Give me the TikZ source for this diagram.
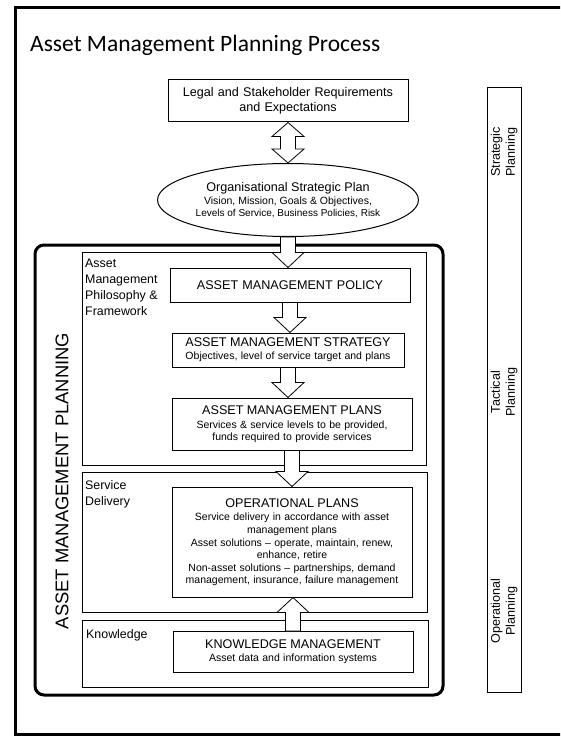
\documentclass[tikz,border=0pt]{standalone}
\usepackage{fontspec}
\setmainfont{Liberation Sans}
\newfontfamily\titlefont{Carlito}
\usetikzlibrary{shapes.geometric,calc}

\newcommand{\hdsize}{\fontsize{12.6}{15}\selectfont}
\newcommand{\subsize}{\fontsize{10.5}{12.6}\selectfont}
\newcommand{\lblsize}{\fontsize{12.4}{16}\selectfont}

\tikzset{
  planbox/.style={draw, line width=1pt, fill=white, align=center, inner sep=2pt,
    minimum width=240pt, text width=234pt},
  groupbox/.style={draw, line width=1pt},
  grouplbl/.style={anchor=north west, align=left, inner sep=1pt, font=\lblsize},
  sidelbl/.style={rotate=90, align=center, inner sep=1pt, font=\hdsize},
  blockarr/.style={draw, fill=white, line width=0.8pt, line join=miter},
}

\newcommand{\blockarrow}[3]{%
  \draw[blockarr] ($(#1)+(-7.5,0)$) -- ($(#1 |- #2)+(-7.5,-15*#3)$)
    -- ($(#1 |- #2)+(-16,-15*#3)$) -- (#1 |- #2) -- ($(#1 |- #2)+(16,-15*#3)$)
    -- ($(#1 |- #2)+(7.5,-15*#3)$) -- ($(#1)+(7.5,0)$) -- cycle;}

\begin{document}
\begin{tikzpicture}[x=1pt, y=-1pt]
  \useasboundingbox (0,0) rectangle (560,738);
  \clip (0,0) rectangle (560,738);
  \draw[line width=3pt] (15,8) rectangle (570,734);
  \node[anchor=base west, inner sep=0pt, font=\titlefont\fontsize{23.5}{28}\selectfont]
    (title) at (30,52) {Asset Management Planning Process};

  % planning levels column
  \draw[line width=1pt] (487,88) rectangle (521,692);
  \node[sidelbl] (strat) at (504,152) {Strategic\\Planning};
  \node[sidelbl] (tact) at (504,392) {Tactical\\Planning};
  \node[sidelbl] (oper) at (504,611) {Operational\\Planning};

  % asset management planning frame
  \draw[line width=3pt, rounded corners=9pt] (35,245) rectangle (443,695);
  \node[rotate=90, inner sep=0pt, font=\fontsize{18.4}{22}\selectfont] (amplbl) at (62,481)
    {ASSET MANAGEMENT PLANNING};
  \draw[groupbox] (82,252) rectangle (426,465);
  \draw[groupbox] (82,472) rectangle (427,612);
  \draw[groupbox] (82,620) rectangle (428,687);
  \node[grouplbl] (fwk) at (84,258) {Asset\\Management\\Philosophy \&\\Framework};
  \node[grouplbl] (svc) at (84,479) {Service\\Delivery};
  \node[grouplbl] (knw) at (85,628) {Knowledge};

  \node[planbox, minimum height=42pt, font=\hdsize] (legal) at (288,101)
    {Legal and Stakeholder Requirements\\and Expectations};
  \node[ellipse, draw, line width=1pt, fill=white, inner sep=0pt, align=center,
    minimum width=240pt, minimum height=73pt] (osp) at (288,200)
    {\hdsize Organisational Strategic Plan\\[1pt]
     \subsize Vision, Mission, Goals \& Objectives,\\Levels of Service, Business Policies, Risk};
  \node[planbox, minimum height=34pt, font=\hdsize] (amp) at (290,285)
    {ASSET MANAGEMENT POLICY};
  \node[planbox, minimum width=232pt, text width=226pt, minimum height=34pt] (ams) at (288,350)
    {\hdsize ASSET MANAGEMENT STRATEGY\\[1pt]
     \subsize Objectives, level of service target and plans};
  \node[planbox, minimum height=52pt] (ampl) at (292,424)
    {\hdsize ASSET MANAGEMENT PLANS\\[1pt]
     \subsize Services \& service levels to be provided,\\funds required to provide services};
  \node[planbox, minimum height=110pt] (ops) at (292,542)
    {\hdsize OPERATIONAL PLANS\\[1pt]
     \subsize Service delivery in accordance with asset\\management plans\\
     Asset solutions -- operate, maintain, renew,\\enhance, retire\\
     Non-asset solutions -- partnerships, demand\\management, insurance, failure management};
  \node[planbox, minimum height=41pt] (km) at (293,652)
    {\hdsize KNOWLEDGE MANAGEMENT\\[1pt]
     \subsize Asset data and information systems};

  \draw[blockarr] (legal.south) -- ($(legal.south)+(16,14)$) -- ($(legal.south)+(7.5,14)$)
    -- ($(osp.north)+(7.5,-14)$) -- ($(osp.north)+(16,-14)$) -- (osp.north)
    -- ($(osp.north)+(-16,-14)$) -- ($(osp.north)+(-7.5,-14)$)
    -- ($(legal.south)+(-7.5,14)$) -- ($(legal.south)+(-16,14)$) -- cycle;
  \blockarrow{osp.south}{amp.north}{1}
  \blockarrow{amp.south}{ams.north}{1}
  \blockarrow{ams.south}{ampl.north}{1}
  \blockarrow{ampl.south}{ops.north}{1}
  \blockarrow{km.north}{ops.south}{-1}
\end{tikzpicture}
\end{document}
